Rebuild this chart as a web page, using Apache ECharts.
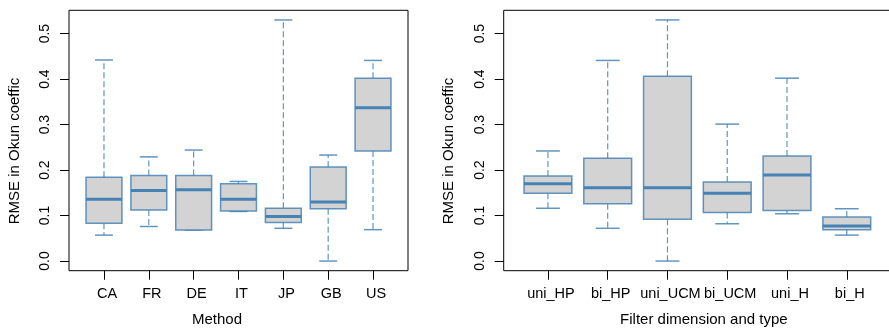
<!DOCTYPE html>
<html>
<head>
<meta charset="utf-8">
<script src="https://cdn.jsdelivr.net/npm/echarts@6/dist/echarts.min.js"></script>
<style>html,body{margin:0;padding:0;background:#fff}#c{width:889px;height:330px}</style>
</head>
<body>
<div id="c"></div>
<script>
// ---- Data ----
const leftCategories = ['CA', 'FR', 'DE', 'IT', 'JP', 'GB', 'US'];
const leftMin    = [0.057, 0.076, 0.068, 0.109, 0.072, 0.000, 0.069];
const leftQ1     = [0.083, 0.112, 0.068, 0.110, 0.085, 0.115, 0.242];
const leftMedian = [0.136, 0.155, 0.157, 0.136, 0.098, 0.130, 0.337];
const leftQ3     = [0.184, 0.188, 0.188, 0.170, 0.116, 0.207, 0.402];
const leftMax    = [0.442, 0.229, 0.244, 0.175, 0.530, 0.233, 0.441];

const rightCategories = ['uni_HP', 'bi_HP', 'uni_UCM', 'bi_UCM', 'uni_H', 'bi_H'];
const rightMin    = [0.116, 0.072, 0.000, 0.082, 0.104, 0.057];
const rightQ1     = [0.149, 0.126, 0.092, 0.107, 0.111, 0.069];
const rightMedian = [0.170, 0.161, 0.161, 0.149, 0.189, 0.077];
const rightQ3     = [0.187, 0.226, 0.406, 0.174, 0.231, 0.097];
const rightMax    = [0.242, 0.441, 0.530, 0.301, 0.402, 0.115];

const yTicks = [0, 0.1, 0.2, 0.3, 0.4, 0.5];
const yLabel = 'RMSE in Okun coeffic';
const leftXLabel = 'Method';
const rightXLabel = 'Filter dimension and type';

// ---- Build ----
function buildData(mins, q1s, meds, q3s, maxs) {
  return mins.map((m, i) => [i + 1, m, q1s[i], meds[i], q3s[i], maxs[i]]);
}
const leftData = buildData(leftMin, leftQ1, leftMedian, leftQ3, leftMax);
const rightData = buildData(rightMin, rightQ1, rightMedian, rightQ3, rightMax);

const BLUE = '#4682B4';
const BOXLINE = 'rgba(70,130,180,0.85)';
const FILL = '#D3D3D3';
const FONT = 'Liberation Sans, Arial, Helvetica, sans-serif';

function renderBox(params, api) {
  const x = api.value(0);
  const mn = api.value(1), q1 = api.value(2), md = api.value(3), q3 = api.value(4), mx = api.value(5);
  const unit = api.size([1, 0])[0];
  const bw = unit * 0.8, cw = unit * 0.4;
  const pMin = api.coord([x, mn]), pQ1 = api.coord([x, q1]), pMd = api.coord([x, md]);
  const pQ3 = api.coord([x, q3]), pMax = api.coord([x, mx]);
  const cx = pMd[0];
  const dashStyle = { stroke: BOXLINE, lineWidth: 1.2, lineDash: [6, 3] };
  const solid = { stroke: BOXLINE, lineWidth: 1.5 };
  return {
    type: 'group',
    children: [
      { type: 'line', shape: { x1: cx, y1: pQ3[1], x2: cx, y2: pMax[1] }, style: dashStyle },
      { type: 'line', shape: { x1: cx, y1: pQ1[1], x2: cx, y2: pMin[1] }, style: dashStyle },
      { type: 'line', shape: { x1: cx - cw / 2, y1: pMax[1], x2: cx + cw / 2, y2: pMax[1] }, style: solid },
      { type: 'line', shape: { x1: cx - cw / 2, y1: pMin[1], x2: cx + cw / 2, y2: pMin[1] }, style: solid },
      { type: 'rect', shape: { x: cx - bw / 2, y: pQ3[1], width: bw, height: pQ1[1] - pQ3[1] },
        style: { fill: FILL, stroke: BOXLINE, lineWidth: 1.5 } },
      { type: 'line', shape: { x1: cx - bw / 2, y1: pMd[1], x2: cx + bw / 2, y2: pMd[1] },
        style: { stroke: BLUE, lineWidth: 3 } }
    ]
  };
}

function xAxis(gridIndex, cats, min, max, name, pad) {
  const ticks = cats.map((c, i) => i + 1);
  return {
    type: 'value', gridIndex, min, max,
    name, nameLocation: 'middle', nameGap: 42,
    nameTextStyle: { color: '#000', fontSize: 15, fontFamily: FONT, padding: pad },
    splitLine: { show: false },
    axisLine: { show: false, onZero: false },
    axisTick: { show: true, length: 9, customValues: ticks, lineStyle: { color: '#000', width: 1 } },
    axisLabel: { show: true, customValues: ticks, margin: 16, color: '#000', fontSize: 14.5, fontFamily: FONT,
      padding: [0, 0, 0, 6],
      formatter: v => cats[Math.round(v) - 1] || '' }
  };
}
function yAxis(gridIndex) {
  return {
    type: 'value', gridIndex, min: -0.0212, max: 0.5512,
    name: yLabel, nameLocation: 'middle', nameGap: 47, nameRotate: 90,
    nameTextStyle: { color: '#000', fontSize: 15, fontFamily: FONT, padding: [0, 21, 0, 0] },
    splitLine: { show: false },
    axisLine: { show: false },
    axisTick: { show: true, length: 9, customValues: yTicks, lineStyle: { color: '#000', width: 1 } },
    axisLabel: { show: true, customValues: yTicks, rotate: 90, margin: 17, color: '#000', fontSize: 14, fontFamily: FONT,
      formatter: v => v.toFixed(1) }
  };
}

const chart = echarts.init(document.getElementById('c'), null, { renderer: 'canvas' });
chart.setOption({
  animation: false,
  backgroundColor: '#fff',
  grid: [
    { left: 69, right: 481, top: 10.3, bottom: 59.3, show: true, borderColor: '#000', borderWidth: 1, backgroundColor: 'transparent', containLabel: false, outerBoundsMode: 'none' },
    { left: 503.7, right: -2, top: 10.3, bottom: 59.3, show: true, borderColor: '#000', borderWidth: 1, backgroundColor: 'transparent', containLabel: false, outerBoundsMode: 'none' }
  ],
  xAxis: [
    xAxis(0, leftCategories, 0.22, 7.78, leftXLabel, [0, 43, 0, 0]),
    xAxis(1, rightCategories, 0.26, 6.74, rightXLabel, [0, 0, 0, 13])
  ],
  yAxis: [yAxis(0), yAxis(1)],
  series: [
    { type: 'custom', xAxisIndex: 0, yAxisIndex: 0, data: leftData, renderItem: renderBox, clip: false,
      encode: { x: 0, y: [1, 2, 3, 4, 5] } },
    { type: 'custom', xAxisIndex: 1, yAxisIndex: 1, data: rightData, renderItem: renderBox, clip: false,
      encode: { x: 0, y: [1, 2, 3, 4, 5] } }
  ]
});
</script>
</body>
</html>
